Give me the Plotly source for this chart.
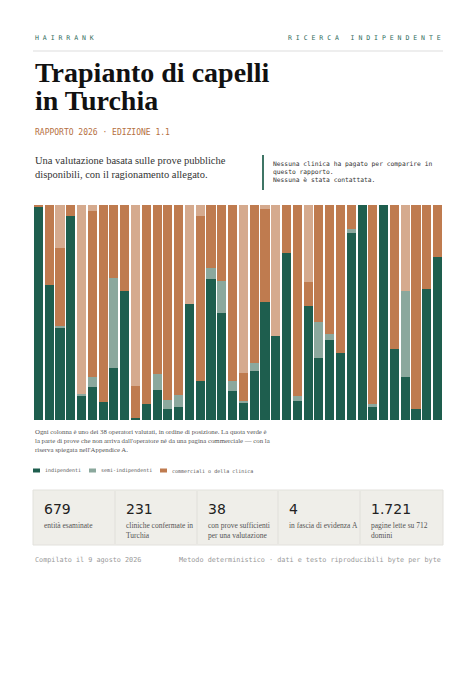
import plotly.graph_objects as go

# share of evidence per operator (percent), in rank order
indipendenti = [99, 63, 43, 95, 11, 15.5, 8.5, 24, 60, 1, 7.5, 14, 5, 6, 54, 18, 65.5, 50, 13.5,
                8, 23, 55, 39, 77.5, 9, 53, 29, 37, 31, 87, 100, 6, 100, 33, 20, 5, 61, 76]
semi = [0, 0, 0.5, 0, 1, 4.5, 0, 42, 0, 0, 0, 7.5, 4.5, 5.5, 0, 0, 5, 14.5, 4.5,
        1, 3.5, 0, 0, 0, 2, 0, 16.5, 3, 0, 2, 0, 1.5, 0, 0, 40, 0, 0, 0]
commerciali = [1, 37, 36.5, 5, 0, 77, 91.5, 34, 40, 15, 92.5, 78.5, 90.5, 88.5, 0, 77, 29.5, 35.5, 82,
               13, 73.5, 43, 0, 22.5, 89, 11, 54.5, 60, 69, 11, 0, 92.5, 0, 67, 0, 95, 39, 24]
non_verificate = [0, 0, 20, 0, 88, 3, 0, 0, 0, 84, 0, 0, 0, 0, 46, 5, 0, 0, 0,
                  78, 0, 2, 61, 0, 0, 36, 0, 0, 0, 0, 0, 0, 0, 0, 40, 0, 0, 0]
operatori = list(range(1, 39))

stat_numeri = ["679", "231", "38", "4", "1.721"]
stat_etichette = ["entità esaminate", "cliniche confermate in<br>Turchia",
                  "con prove sufficienti<br>per una valutazione", "in fascia di evidenza A",
                  "pagine lette su 712<br>domini"]

GREEN = "#1e5e4e"
SEMI = "#8ba89d"
ORANGE = "#bf7b4f"
TAN = "#d5aa8e"
SERIF = "Liberation Serif"
MONO = "DejaVu Sans Mono"

OFF = 8  # page offset of the plot div
W, H = 476, 673
L, R, T, B = 33 - OFF, 443 - OFF, 205 - OFF, 420 - OFF


def px(x):
    return (x - OFF - L) / (R - L)


def py(y):
    return (B - (y - OFF)) / (B - T)


fig = go.Figure()
for vals, col, name in [(indipendenti, GREEN, "indipendenti"), (semi, SEMI, "semi-indipendenti"),
                        (commerciali, ORANGE, "commerciali o della clinica"),
                        (non_verificate, TAN, "non verificate")]:
    fig.add_trace(go.Bar(x=operatori, y=vals, name=name, marker=dict(color=col, line_width=0),
                         showlegend=False))

fig.update_layout(
    width=W, height=H, barmode="stack", bargap=0.16,
    margin=dict(l=L, r=W - R, t=T, b=H - B),
    paper_bgcolor="white", plot_bgcolor="white",
    xaxis=dict(visible=False, range=[0.5, 38.5]),
    yaxis=dict(visible=False, range=[0, 100]),
)

ann = []
shapes = []


def text(x, y, s, size, color="#222", font=SERIF, anchor="left", **kw):
    ann.append(dict(x=px(x), y=py(y), xref="paper", yref="paper", text=s, showarrow=False,
                    xanchor=anchor, yanchor="middle", align=anchor,
                    font=dict(family=font, size=size, color=color), **kw))


# header
text(33, 38, "H A I R R A N K", 6.5, "#2f6b5b", MONO)
text(443, 38, "R I C E R C A   I N D I P E N D E N T E", 6.5, "#2f6b5b", MONO, anchor="right")
shapes.append(dict(type="line", xref="paper", yref="paper", x0=px(33), x1=px(443),
                   y0=py(51), y1=py(51), line=dict(color="#dddddd", width=1)))
text(33, 72, "<b>Trapianto di capelli</b>", 28, "#111")
text(33, 100, "<b>in Turchia</b>", 28, "#111")
text(33, 132, "RAPPORTO 2026 · EDIZIONE 1.1", 8, "#b5703f", MONO)
text(33, 167, "Una valutazione basata sulle prove pubbliche<br>disponibili, con il ragionamento allegato.",
     10.5, "#333")
shapes.append(dict(type="line", xref="paper", yref="paper", x0=px(263), x1=px(263),
                   y0=py(155), y1=py(190), line=dict(color="#3f7565", width=2)))
text(271, 172, "Nessuna clinica ha pagato per comparire in<br>questo rapporto.<br>Nessuna è stata contattata.",
     6.3, "#333", MONO)

# caption
text(33, 440, "Ogni colonna è uno dei 38 operatori valutati, in ordine di posizione. La quota verde è<br>"
     "la parte di prove che non arriva dall'operatore né da una pagina commerciale — con la<br>"
     "riserva spiegata nell'Appendice A.", 6.8, "#555")

# legend
for x0, col, lab in [(33, GREEN, "indipendenti"), (89, SEMI, "semi-indipendenti"),
                     (160, ORANGE, "commerciali o della clinica")]:
    shapes.append(dict(type="rect", xref="paper", yref="paper", x0=px(x0), x1=px(x0 + 7),
                       y0=py(472.5), y1=py(468.5), fillcolor=col, line_width=0))
    text(x0 + 10, 470.5, lab, 5, "#555", MONO)

# stats box
shapes.append(dict(type="rect", xref="paper", yref="paper", x0=px(33), x1=px(443),
                   y0=py(545), y1=py(490), fillcolor="#efeee9", line=dict(color="#e2e1dc", width=1)))
cols = [33, 115, 197, 278, 360]
for i, (n, lab) in enumerate(zip(stat_numeri, stat_etichette)):
    if i:
        shapes.append(dict(type="line", xref="paper", yref="paper", x0=px(cols[i]), x1=px(cols[i]),
                           y0=py(491), y1=py(544), line=dict(color="#e0dfda", width=1)))
    text(cols[i] + 9, 509, n, 14, "#222", "DejaVu Sans")
    ann.append(dict(x=px(cols[i] + 9), y=py(519), xref="paper", yref="paper", text=lab,
                    showarrow=False, xanchor="left", yanchor="top", align="left",
                    font=dict(family=SERIF, size=7.5, color="#555")))

# footer
text(33, 560, "Compilato il 9 agosto 2026", 6.8, "#999", MONO)
text(443, 560, "Metodo deterministico · dati e testo riproducibili byte per byte", 6.8, "#999", MONO,
     anchor="right")

fig.update_layout(annotations=ann, shapes=shapes)
fig.write_html("out.html")
